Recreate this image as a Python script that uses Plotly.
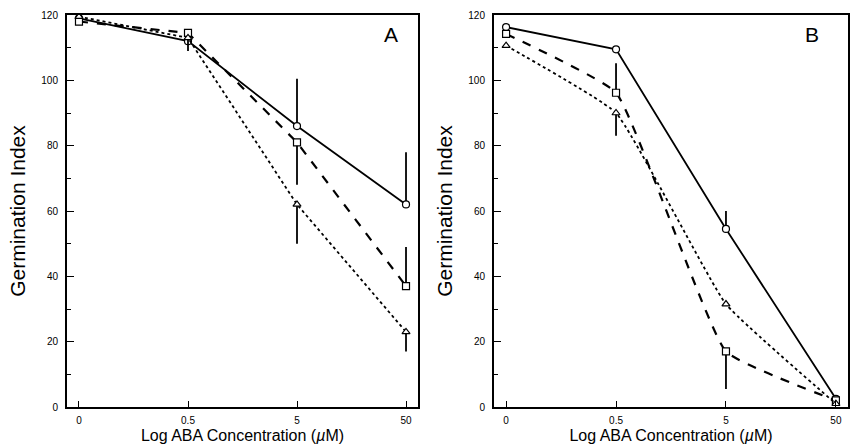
import plotly.graph_objects as go

conc = ["0", "0.5", "5", "50"]

# Panel A
a_circle = [119, 112, 86, 62]
a_circle_up = [0, 0, 14.5, 16]
a_square = [118, 114.5, 81, 37]
a_square_up = [0, 0, 0, 12]
a_square_dn = [0, 0, 13, 0]
a_tri = [119.5, 113, 62, 23]
a_tri_dn = [0, 4, 12, 6]

# Panel B
b_circle = [116.3, 109.5, 54.5, 2.5]
b_circle_up = [0, 0, 5.5, 0]
b_square = [114.2, 96.2, 17, 2]
b_square_up = [0, 9, 0, 0]
b_square_dn = [0, 0, 11.5, 0]
b_tri = [110.6, 90, 31.5, 1]
b_tri_dn = [0, 7, 0, 0]

zeros = [0, 0, 0, 0]

fig = go.Figure()

def add(x, y, up, dn, symbol, dash, width, xa, ya, shape="linear"):
    fig.add_trace(go.Scatter(
        x=x, y=y, mode="lines+markers", xaxis=xa, yaxis=ya,
        line=dict(color="black", width=width, dash=dash, shape=shape, smoothing=0.35),
        marker=dict(symbol=symbol, size=7, color="white",
                    line=dict(color="black", width=1.2)),
        error_y=dict(type="data", symmetric=False, array=up, arrayminus=dn,
                     color="black", thickness=1.8, width=0),
        showlegend=False,
    ))

add(conc, a_circle, a_circle_up, zeros, "circle", "solid", 1.8, "x", "y")
add(conc, a_square, a_square_up, a_square_dn, "square", "dash", 2.2, "x", "y")
add(conc, a_tri, zeros, a_tri_dn, "triangle-up", "dot", 1.8, "x", "y")

add(conc, b_circle, b_circle_up, zeros, "circle", "solid", 1.8, "x2", "y2")
add(conc, b_square, b_square_up, b_square_dn, "square", "dash", 2.2, "x2", "y2", "spline")
add(conc, b_tri, zeros, b_tri_dn, "triangle-up", "dot", 1.8, "x2", "y2", "spline")

W, H = 855, 447
ydom = [1 - 407 / H, 1 - 15 / H]

xcommon = dict(type="category", range=[-0.11, 3.11], autorange=False, automargin=False,
               showline=True, mirror=True,
               linecolor="black", linewidth=2, ticks="inside", ticklen=6,
               tickcolor="black", tickwidth=1.2, showgrid=False, zeroline=False,
               tickfont=dict(size=10, color="black"), ticklabelstandoff=3,
               title=dict(text="Log ABA Concentration (<i>µ</i>M)",
                          font=dict(size=16, color="black"), standoff=5))
ycommon = dict(range=[0, 120], autorange=False, automargin=False,
               tickvals=[0, 20, 40, 60, 80, 100, 120],
               showline=True, mirror=True, linecolor="black", linewidth=2,
               ticks="inside", ticklen=7, tickcolor="black", tickwidth=1.2,
               minor=dict(tickvals=[10, 30, 50, 70, 90, 110], ticks="inside",
                          ticklen=4, tickcolor="black", tickwidth=1),
               showgrid=False, zeroline=False,
               tickfont=dict(size=10, color="black"), ticklabelstandoff=5,
               title=dict(text="Germination Index",
                          font=dict(size=21, color="black"), standoff=10))

fig.update_layout(
    width=W, height=H,
    margin=dict(l=0, r=0, t=0, b=0, pad=0, autoexpand=False),
    paper_bgcolor="white", plot_bgcolor="white",
    font=dict(family="Liberation Sans, Arial, sans-serif", color="black"),
    xaxis=dict(domain=[67 / W, 418 / W], anchor="y", **xcommon),
    yaxis=dict(domain=ydom, anchor="x", **ycommon),
    xaxis2=dict(domain=[494 / W, 848 / W], anchor="y2", **xcommon),
    yaxis2=dict(domain=ydom, anchor="x2", **ycommon),
    annotations=[
        dict(text="A", x=391 / W, y=1 - 35 / H, xref="paper", yref="paper",
             xanchor="center", yanchor="middle",
             showarrow=False, font=dict(size=21, color="black")),
        dict(text="B", x=812 / W, y=1 - 35 / H, xref="paper", yref="paper",
             xanchor="center", yanchor="middle",
             showarrow=False, font=dict(size=21, color="black")),
    ],
)

fig.write_html("out.html", config={"displayModeBar": False},
               post_script="document.body.style.margin='0px';document.body.style.overflow='hidden';")
